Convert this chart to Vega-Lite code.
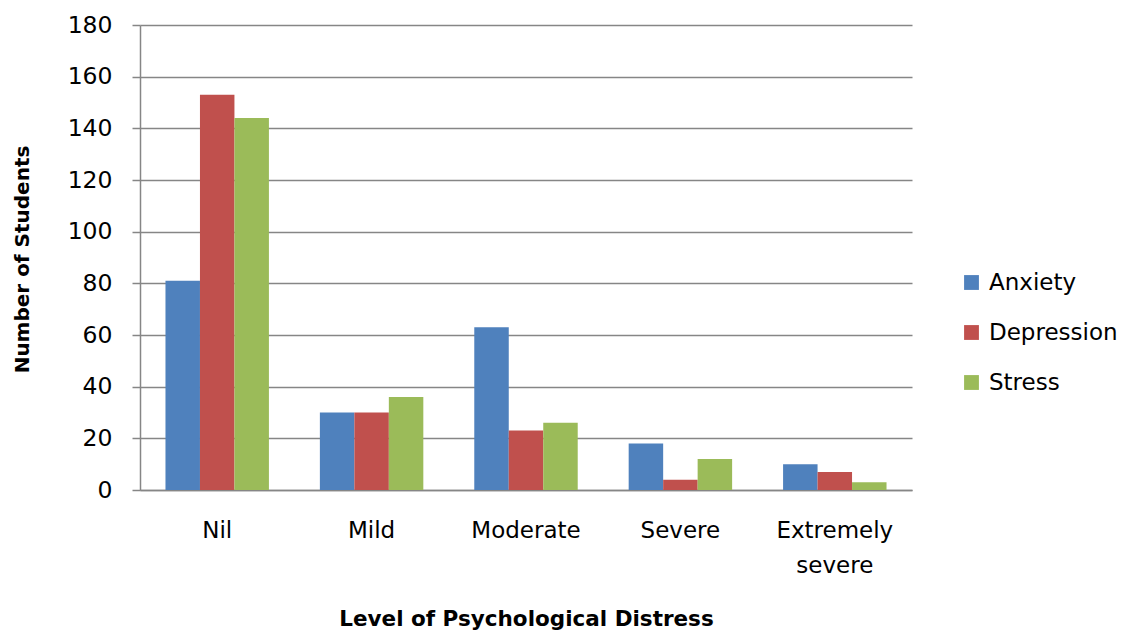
{
  "$schema": "https://vega.github.io/schema/vega-lite/v6.json",
  "width": 772,
  "height": 465,
  "autosize": {"type": "none"},
  "padding": {"left": 140, "top": 25, "right": 217, "bottom": 140},
  "background": "white",
  "config": {
    "view": {"stroke": null},
    "font": "DejaVu Sans"
  },
  "data": {
    "values": [
      {"level": "Nil", "type": "Anxiety", "count": 81},
      {"level": "Nil", "type": "Depression", "count": 153},
      {"level": "Nil", "type": "Stress", "count": 144},
      {"level": "Mild", "type": "Anxiety", "count": 30},
      {"level": "Mild", "type": "Depression", "count": 30},
      {"level": "Mild", "type": "Stress", "count": 36},
      {"level": "Moderate", "type": "Anxiety", "count": 63},
      {"level": "Moderate", "type": "Depression", "count": 23},
      {"level": "Moderate", "type": "Stress", "count": 26},
      {"level": "Severe", "type": "Anxiety", "count": 18},
      {"level": "Severe", "type": "Depression", "count": 4},
      {"level": "Severe", "type": "Stress", "count": 12},
      {"level": "Extremely severe", "type": "Anxiety", "count": 10},
      {"level": "Extremely severe", "type": "Depression", "count": 7},
      {"level": "Extremely severe", "type": "Stress", "count": 3}
    ]
  },
  "mark": {"type": "bar"},
  "encoding": {
    "x": {
      "field": "level",
      "type": "nominal",
      "sort": ["Nil", "Mild", "Moderate", "Severe", "Extremely severe"],
      "scale": {"paddingInner": 0.33, "paddingOuter": 0.165},
      "axis": {
        "title": "Level of Psychological Distress",
        "titleFont": "DejaVu Sans",
        "titleFontSize": 21.5,
        "titleFontWeight": "bold",
        "titleColor": "#000000",
        "titleX": 386,
        "titleY": 129,
        "titleBaseline": "middle",
        "labelAngle": 0,
        "labelFontSize": 23,
        "labelColor": "#000000",
        "labelPadding": 29,
        "labelLineHeight": 35,
        "labelExpr": "datum.label == 'Extremely severe' ? ['Extremely', 'severe'] : datum.label",
        "ticks": false,
        "domainColor": "#868686",
        "domainWidth": 1.5,
        "grid": false
      }
    },
    "xOffset": {
      "field": "type",
      "type": "nominal",
      "sort": ["Anxiety", "Depression", "Stress"],
      "scale": {"paddingInner": 0, "paddingOuter": 0}
    },
    "y": {
      "field": "count",
      "type": "quantitative",
      "scale": {"domain": [0, 180], "nice": false},
      "axis": {
        "title": "Number of Students",
        "titleFont": "DejaVu Sans",
        "titleFontSize": 20,
        "titleFontWeight": "bold",
        "titleColor": "#000000",
        "titleX": -118,
        "titleY": 234,
        "titleAngle": -90,
        "titleBaseline": "middle",
        "titleAlign": "center",
        "values": [0, 20, 40, 60, 80, 100, 120, 140, 160, 180],
        "labelFontSize": 23.5,
        "labelColor": "#000000",
        "labelPadding": 20,
        "tickSize": 8,
        "tickColor": "#868686",
        "tickWidth": 1.5,
        "domainColor": "#868686",
        "domainWidth": 1.5,
        "grid": true,
        "gridColor": "#868686",
        "gridWidth": 1.5
      }
    },
    "color": {
      "field": "type",
      "type": "nominal",
      "sort": ["Anxiety", "Depression", "Stress"],
      "scale": {
        "domain": ["Anxiety", "Depression", "Stress"],
        "range": ["#4F81BD", "#C0504D", "#9BBB59"]
      },
      "legend": {
        "title": null,
        "orient": "none",
        "legendX": 820,
        "legendY": 246,
        "symbolType": "square",
        "symbolSize": 220,
        "symbolStrokeWidth": 0,
        "labelFontSize": 23,
        "labelColor": "#000000",
        "labelOffset": 6,
        "rowPadding": 26
      }
    }
  }
}
